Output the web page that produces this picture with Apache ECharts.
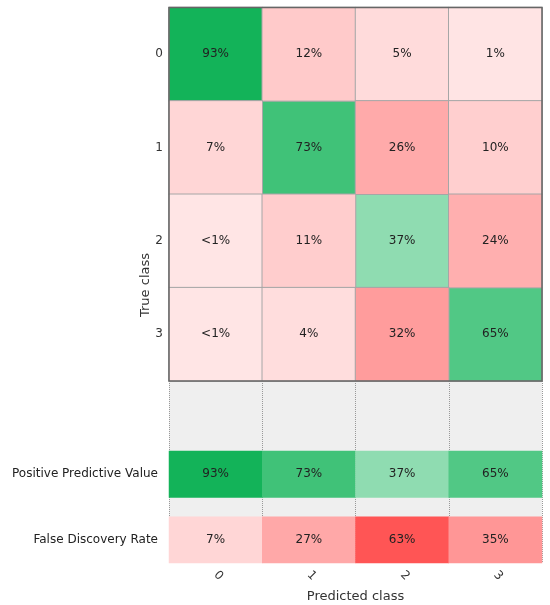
<!DOCTYPE html>
<html>
<head>
<meta charset="utf-8">
<script src="https://cdn.jsdelivr.net/npm/echarts@6/dist/echarts.min.js"></script>
<style>
  html, body { margin: 0; padding: 0; background: #fff; }
  #chart { width: 550px; height: 605px; }
</style>
</head>
<body>
<div id="chart"></div>
<script>
// 类别
const classes = ['0', '1', '2', '3'];
// 混淆矩阵（行 = 真实类别，列 = 预测类别，百分比；<1% 记为 0.4）
const row0 = [93, 12, 5, 1];
const row1 = [7, 73, 26, 10];
const row2 = [0.4, 11, 37, 24];
const row3 = [0.4, 4, 32, 65];
const matrix = [row0, row1, row2, row3];
// 汇总行
const ppvValues = [93, 73, 37, 65];
const fdrValues = [7, 27, 63, 35];
const ppvLabel = ['Positive Predictive Value'];
const fdrLabel = ['False Discovery Rate'];

const FONT = 'DejaVu Sans';

// 拆分对角线 / 非对角线
const diagData = [];
const offData = [];
matrix.forEach((row, r) => {
  row.forEach((v, c) => {
    if (r === c) diagData.push([c, r, v]);
    else offData.push([c, r, v]);
  });
});
const ppvData = ppvValues.map((v, c) => [c, 0, v]);
const fdrData = fdrValues.map((v, c) => [c, 0, v]);

function fmt(p) {
  const v = p.value[2];
  return v < 1 ? '<1%' : Math.round(v) + '%';
}

const cellLabel = { show: true, formatter: fmt, color: '#222', fontSize: 12, fontFamily: FONT };

const L = 169, W = 373;

const chart = echarts.init(document.getElementById('chart'));
const option = {
  animation: false,
  textStyle: { fontFamily: FONT },
  grid: [
    { left: L, width: W, top: 7.5, height: 373.5, show: true, z: 5,
      backgroundColor: 'transparent', borderColor: '#666', borderWidth: 1.5 },
    { left: L, width: W, top: 381, height: 182, show: true,
      backgroundColor: '#efefef', borderWidth: 0 },
    { left: L, width: W, top: 451, height: 46.5 },
    { left: L, width: W, top: 516.7, height: 46.3 }
  ],
  xAxis: [
    { gridIndex: 0, type: 'category', data: classes, axisLine: { show: false },
      axisTick: { show: false }, axisLabel: { show: false } },
    { gridIndex: 1, type: 'category', data: classes, axisLine: { show: false },
      axisTick: { show: false },
      splitLine: { show: true, lineStyle: { color: '#999', type: 'dotted', width: 1 } },
      axisLabel: { rotate: -45, color: '#333', fontSize: 12, margin: 10 },
      name: 'Predicted class', nameLocation: 'middle', nameGap: 27,
      nameTextStyle: { color: '#333', fontSize: 13 } },
    { gridIndex: 2, type: 'category', data: classes, show: false },
    { gridIndex: 3, type: 'category', data: classes, show: false }
  ],
  yAxis: [
    { gridIndex: 0, type: 'category', data: classes, inverse: true,
      axisLine: { show: false }, axisTick: { show: false },
      axisLabel: { color: '#333', fontSize: 12, margin: 6 } },
    { gridIndex: 1, type: 'value', show: false },
    { gridIndex: 2, type: 'category', data: ppvLabel, axisLine: { show: false },
      axisTick: { show: false }, axisLabel: { color: '#222', fontSize: 12, margin: 11 } },
    { gridIndex: 3, type: 'category', data: fdrLabel, axisLine: { show: false },
      axisTick: { show: false }, axisLabel: { color: '#222', fontSize: 12, margin: 11 } }
  ],
  visualMap: [
    { type: 'continuous', show: false, min: 0, max: 100, seriesIndex: [0, 2],
      inRange: { color: ['#e1f7eb', '#04ae4e'] } },
    { type: 'continuous', show: false, min: 0, max: 100, seriesIndex: [1, 3],
      inRange: { color: ['#ffe6e6', '#ff0000'] } }
  ],
  series: [
    { type: 'heatmap', xAxisIndex: 0, yAxisIndex: 0, data: diagData, label: cellLabel,
      itemStyle: { borderColor: '#a6a6a6', borderWidth: 1 } },
    { type: 'heatmap', xAxisIndex: 0, yAxisIndex: 0, data: offData, label: cellLabel,
      itemStyle: { borderColor: '#a6a6a6', borderWidth: 1 } },
    { type: 'heatmap', xAxisIndex: 2, yAxisIndex: 2, data: ppvData, label: cellLabel },
    { type: 'heatmap', xAxisIndex: 3, yAxisIndex: 3, data: fdrData, label: cellLabel }
  ],
  graphic: [
    { type: 'text', x: 146, y: 285, rotation: Math.PI / 2,
      style: { text: 'True class', fill: '#333', fontSize: 13, fontFamily: FONT,
        align: 'center', verticalAlign: 'middle' } }
  ]
};
chart.setOption(option);
</script>
</body>
</html>
